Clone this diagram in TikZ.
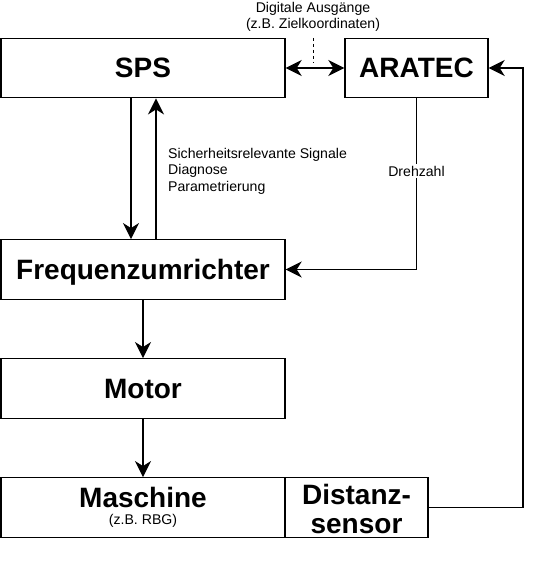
\documentclass[tikz,border=0pt]{standalone}
\usepackage{fontspec}
\setmainfont{Liberation Sans}
\usetikzlibrary{arrows.meta}
\tikzset{
  myhead/.tip={Stealth[length=16pt,width=16pt,inset=5pt]},
  box/.style={draw, line width=1.4pt, rectangle, inner sep=0pt, minimum height=59.5pt},
  big/.style={font=\fontsize{28}{30}\selectfont\bfseries, inner sep=0pt, anchor=base},
  small/.style={font=\fontsize{14.1}{16.5}\selectfont, inner sep=0pt},
  conn/.style={line width=1.4pt, -myhead},
  dconn/.style={line width=1.4pt, myhead-myhead},
  dashline/.style={line width=1pt, dash pattern=on 3pt off 3pt},
}
\begin{document}
\begin{tikzpicture}[x=1pt,y=-1pt]
\useasboundingbox (0,0) rectangle (540,564);
\fill[white] (0,0) rectangle (540,564);

% boxes
\node[box, minimum width=284pt] (sps) at (143,68) {};
\node[big] (spst) at (143,78) {SPS};
\node[box, minimum width=143pt] (aratec) at (416.5,68) {};
\node[big] (aratect) at (416.5,78) {ARATEC};
\node[box, minimum width=284pt] (fu) at (143,269.5) {};
\node[big] (fut) at (143,279.5) {Frequenzumrichter};
\node[box, minimum width=284pt] (motor) at (143,388.5) {};
\node[big] (motort) at (143,398.5) {Motor};
\node[box, minimum width=284pt] (masch) at (143,507.5) {};
\node[big] (mascht) at (143,507) {Maschine};
\node[small, anchor=base] (rbg) at (143,524.5) {(z.B. RBG)};
\node[box, minimum width=143pt] (dist) at (356.5,507.5) {};
\node[big] (distt1) at (356.5,504) {Distanz-};
\node[big] (distt2) at (356.5,533) {sensor};

% labels
\node[small, anchor=base] (dig1) at (313,13) {Digitale Ausgänge};
\node[small, anchor=base] (dig2) at (313,29) {(z.B. Zielkoordinaten)};
\node[small, align=left, anchor=west] (sig) at (168,171) {Sicherheitsrelevante Signale\\Diagnose\\Parametrierung};

% helper coordinates
\coordinate (xa) at (131,0);
\coordinate (xb) at (156,0);
\coordinate (xr) at (523,0);
\coordinate (da) at (313,38);
\coordinate (db) at (313,63);

% connectors
\draw[dconn] (sps.east) -- (aratec.west);
\draw[dashline] (da) -- (db);
\draw[conn] (xa |- sps.south) -- (xa |- fu.north);
\draw[conn] (xb |- fu.north) -- (xb |- sps.south);
\draw[conn] (aratec.south) |- (fu.east);
\node[small, fill=white, inner sep=1.5pt] (dz) at (416.5,171) {Drehzahl};
\draw[conn] (fu.south) -- (motor.north);
\draw[conn] (motor.south) -- (masch.north);
\draw[conn] (dist.east) -- (xr |- dist.east) -- (xr |- aratec.east) -- (aratec.east);
\end{tikzpicture}
\end{document}
